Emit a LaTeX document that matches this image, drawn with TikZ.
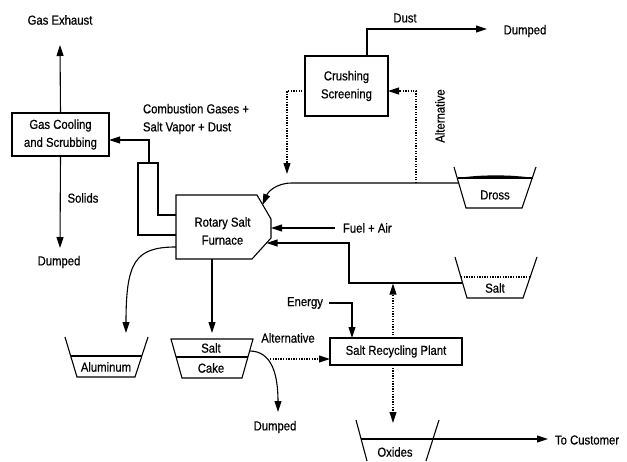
\documentclass[tikz,border=0pt]{standalone}
\usepackage{fontspec}
\setmainfont{Liberation Sans}[FakeStretch=0.87,FakeBold=0.6]
\usetikzlibrary{arrows.meta}
\begin{document}
\begin{tikzpicture}[x=1pt,y=-1pt, line width=1.1pt,
  arr/.style={-{Triangle[length=11pt,width=7pt]}},
  dotl/.style={dash pattern=on 1.3pt off 1.3pt},
  lbl/.style={inner sep=0pt, outer sep=0pt, align=center, font=\fontsize{13}{18}\selectfont},
  box/.style={lbl, draw, line width=1.1pt}]
\useasboundingbox (0,0) rectangle (627,461);

% ---------- boxes ----------
\node[box, minimum width=97pt, minimum height=43pt] (gc) at (60.5,134.5) {Gas Cooling\\and Scrubbing};
\node[box, minimum width=83pt, minimum height=60pt] (cr) at (346.5,86) {Crushing\\Screening};
\node[box, minimum width=132pt, minimum height=27pt] (plant) at (396,351.5) {Salt Recycling Plant};

% ---------- furnace ----------
\draw (176,195) -- (257,195) -- (271,219) -- (271,238) -- (252,259) -- (176,259) -- cycle;
\node[lbl] (furn) at (222.5,231) {Rotary Salt\\Furnace};

% chimney
\draw (176,235) -- (138,235) -- (138,163) -- (158,163) -- (158,215) -- (176,215);
\coordinate (chimtop) at (149,163);

% ---------- labels ----------
\node[lbl] (gasex) at (60,20) {Gas Exhaust};
\node[lbl] (solids) at (83,198) {Solids};
\node[lbl] (dump1) at (59,262) {Dumped};
\node[lbl, anchor=west, align=left] (comb) at (143,119) {Combustion Gases +\\Salt Vapor + Dust};
\node[lbl] (dust) at (405,18) {Dust};
\node[lbl] (dump2) at (525,31) {Dumped};
\node[lbl, rotate=90] (alt1) at (440,116) {Alternative};
\node[lbl, anchor=west] (fuel) at (343,228) {Fuel + Air};
\node[lbl] (energy) at (305,303) {Energy};
\node[lbl] (alt2) at (288,338) {Alternative};
\node[lbl] (dump3) at (275,427) {Dumped};
\node[lbl, anchor=west] (cust) at (555,440) {To Customer};

% ---------- buckets ----------
% dross
\draw (454,167) -- (466,208) -- (522,208) -- (536,167);
\fill (458,178) .. controls (480,174.5) and (512,174.5) .. (533,178) -- cycle;
\draw (458,178) -- (533,178);
\node[lbl] (dross) at (495,195) {Dross};
% salt
\draw (455,257) -- (467,298) -- (523,298) -- (537,257);
\draw[dotl] (461,277) -- (530,277);
\node[lbl] (saltb) at (495,288) {Salt};
% aluminum
\draw (65,337) -- (77,377) -- (135,377) -- (148,337);
\draw (71,356) -- (142,356);
\node[lbl] (alu) at (106,367) {Aluminum};
% salt cake
\draw (171,339) -- (182,378) -- (242,378) -- (253,339) -- cycle;
\draw (176,357) -- (248,357);
\node[lbl] (sc1) at (211,348) {Salt};
\node[lbl] (sc2) at (211,368) {Cake};
% oxides
\draw (356,420) -- (367,461);
\draw (439,420) -- (426,461);
\node[lbl] (ox) at (395,452) {Oxides};

% ---------- coordinates ----------
\coordinate (drossL) at (459,183);
\coordinate (saltL) at (462,283);
\coordinate (scR) at (249.6,351);
\coordinate (oxL) at (361,439);
\coordinate (furnL) at (176,247);
\coordinate (furnB) at (212,259);

% ---------- connectors ----------
\draw[arr] (gc.north) -- (60,45);
\draw[arr] (gc.south) -- (60,248);
\draw[arr] (chimtop) |- (gc.east |- 0,140);

\draw[arr] (cr.north -| 367,0) |- (487,29);
\draw[arr, dotl] (416,183) |- (cr.east |- 0,91);
\draw[arr, dotl] (cr.west |- 0,91) -| (287,174);

\draw[arr] (drossL) -- (292,183) .. controls (276,183) and (268,192) .. (262.5,205);
\draw[arr] (335,228) -- (271,228);
\draw[arr] (saltL) -- (349,283) -- (349,243) -- (266.5,243);

\draw[arr] (furnL) .. controls (135,247) and (126,262) .. (126,333);
\draw[arr] (furnB) -- (212,333);

\draw[arr] (scR) .. controls (272,351) and (278,375) .. (278,412);
\draw[arr, dotl] (270,359) -- (plant.west |- 0,359);

\draw[arr] (329,303) -| (plant.north -| 352,0);
\draw[arr, dotl] (plant.north -| 393,0) -- (393,283.5);
\draw[arr, dotl] (plant.south -| 393,0) -- (393,423);

\draw[arr] (oxL) -- (548,439);
\end{tikzpicture}
\end{document}
